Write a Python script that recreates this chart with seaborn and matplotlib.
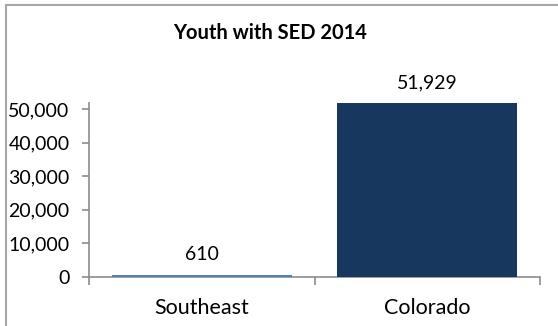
import matplotlib
matplotlib.use("Agg")
import matplotlib.pyplot as plt
import seaborn as sns
import pandas as pd
from matplotlib.patches import Rectangle
from matplotlib.ticker import FuncFormatter, FixedLocator

regions = ["Southeast", "Colorado"]
youth_sed = [610, 51929]
bar_colors = ["#4F81BD", "#17375E"]
y_ticks = [0, 10000, 20000, 30000, 40000, 50000]

sns.set_theme(style="white")
plt.rcParams["font.family"] = ["Lato", "DejaVu Sans"]

df = pd.DataFrame({"region": regions, "count": youth_sed})

fig = plt.figure(figsize=(5.58, 3.26), dpi=100)
ax = fig.add_axes([89 / 558, 1 - 276.7 / 326, (540 - 89) / 558, (276.7 - 102.7) / 326])

sns.barplot(data=df, x="region", y="count", hue="region", palette=bar_colors,
            width=0.8, legend=False, ax=ax, saturation=1)
for bar in ax.patches:
    bar.set_zorder(3)
    bar.set_linewidth(0)

ax.set_xlim(-0.5, 1.5)
ax.set_ylim(0, max(youth_sed))
ax.set_xlabel("")
ax.set_ylabel("")

axis_gray = "#8C8C8C"
for side in ["top", "right"]:
    ax.spines[side].set_visible(False)
for side in ["left", "bottom"]:
    ax.spines[side].set_color(axis_gray)
    ax.spines[side].set_linewidth(1.2)
    ax.spines[side].set_zorder(2)

ax.set_yticks(y_ticks)
ax.yaxis.set_major_formatter(FuncFormatter(lambda v, p: f"{int(v):,}"))
ax.tick_params(axis="y", which="major", direction="out", length=5, width=1.2,
               color=axis_gray, labelsize=14, labelcolor="black", pad=9, left=True)

# category boundaries carry the tick marks, names sit between them
ax.xaxis.set_major_locator(FixedLocator([-0.5, 0.5, 1.5]))
ax.xaxis.set_minor_locator(FixedLocator([0, 1]))
ax.set_xticklabels(["", "", ""])
ax.set_xticklabels(regions, minor=True)
ax.tick_params(axis="x", which="major", direction="out", length=6, width=1.2,
               color=axis_gray, bottom=True)
ax.tick_params(axis="x", which="minor", length=0, labelsize=15.5,
               labelcolor="black", pad=15, bottom=True)

for i, v in enumerate(youth_sed):
    ax.annotate(f"{v:,}", xy=(i, v), xytext=(0, 14.5), textcoords="offset points",
                ha="center", va="center", fontsize=14, color="black",
                annotation_clip=False)

fig.text(270 / 558, 1 - 33 / 326, "Youth with SED 2014", ha="center", va="center",
         fontsize=14.5, fontweight="bold", color="black")

# chart area frame
fig.patches.append(Rectangle((6 / 558, -0.1), 1.2, 1.1 - 5 / 326,
                             transform=fig.transFigure, fill=False,
                             edgecolor="#A6A6A6", linewidth=1.5))

fig.savefig("out.png", dpi=100)
